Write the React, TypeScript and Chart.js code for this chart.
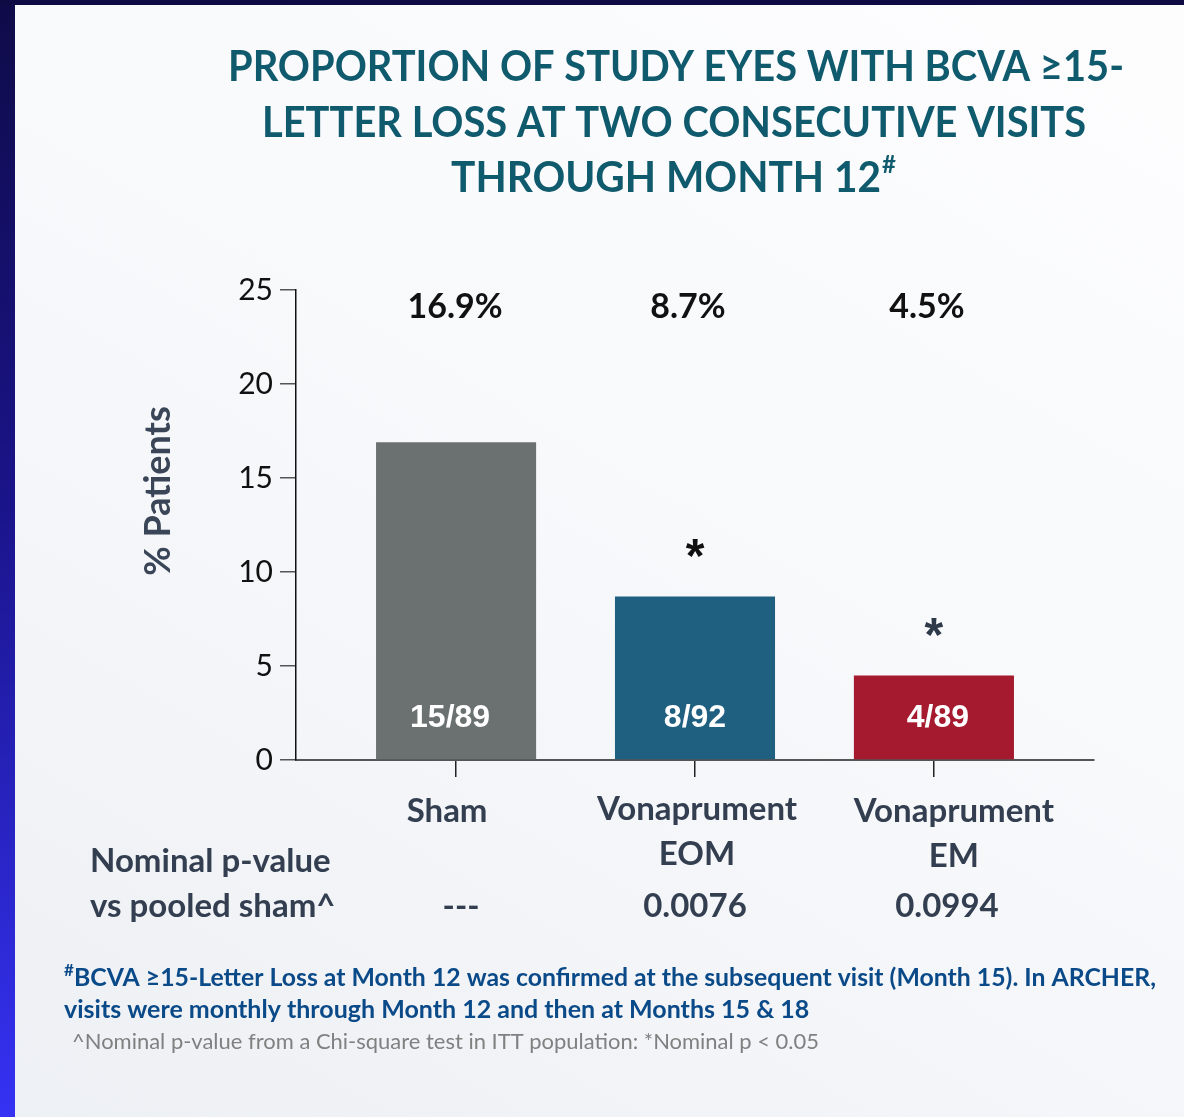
import React, { useEffect, useRef } from 'react';
import { Chart, registerables } from 'chart.js';

Chart.register(...registerables);

// ---------------- data ----------------
const categories: string[][] = [['Sham'], ['Vonaprument', 'EOM'], ['Vonaprument', 'EM']];
const percentValues = [16.9, 8.7, 4.5];
const responderCounts = ['15/89', '8/92', '4/89'];
const significant = [false, true, true];
const pValues = ['---', '0.0076', '0.0994'];
const barColors = ['#6b7170', '#1f5f80', '#a51a2e'];
const yAxisMin = 0;
const yAxisMax = 25;
const yAxisStep = 5;

const titleLines = ['PROPORTION OF STUDY EYES WITH BCVA \u226515-', 'LETTER LOSS AT TWO CONSECUTIVE VISITS', 'THROUGH MONTH 12'];
const titleSup = '#';
const yAxisTitle = '% Patients';
const pValueRowLabel = ['Nominal p-value', 'vs pooled sham^'];
const footnoteLines = [
  'BCVA \u226515-Letter Loss at Month 12 was confirmed at the subsequent visit (Month 15). In ARCHER,',
  'visits were monthly through Month 12 and then at Months 15 & 18',
];
const footnoteSmall = '^Nominal p-value from a Chi-square test in ITT population: *Nominal p < 0.05';

const FONT = 'Lato, "Open Sans", "Noto Sans", sans-serif';

// small per-category visual offsets of the annotation texts (layout only)
const LABEL_DX = [-9, 2, 20];
const LABEL_DY = [2, 0, 2];
const PCT_DX = [-1, -7, -7];
const COUNT_DX = [-6, 0, 4];
const PVAL_DX = [5, 0, 13];

function drawCapCentered(ctx: CanvasRenderingContext2D, text: string, x: number, cy: number, maxWidth?: number) {
  const cap = ctx.measureText('H').actualBoundingBoxAscent;
  const base = cy + cap / 2;
  if (maxWidth) ctx.fillText(text, x, base, maxWidth);
  else ctx.fillText(text, x, base);
}

function drawGlyphCentered(ctx: CanvasRenderingContext2D, text: string, x: number, cy: number) {
  const m = ctx.measureText(text);
  const base = cy + (m.actualBoundingBoxAscent - m.actualBoundingBoxDescent) / 2;
  ctx.fillText(text, x, base);
}

const annotationPlugin = {
  id: 'annotations',
  afterDatasetsDraw(chart: any) {
    const ctx: CanvasRenderingContext2D = chart.ctx;
    const xs = chart.scales.x;
    const ys = chart.scales.y;
    const axisY = ys.getPixelForValue(0);
    ctx.save();
    ctx.textBaseline = 'alphabetic';
    ctx.textAlign = 'center';
    percentValues.forEach((v, i) => {
      const x = xs.getPixelForValue(i);
      // percent at top
      ctx.fillStyle = '#111111';
      ctx.font = `bold 34px ${FONT}`;
      drawCapCentered(ctx, `${v.toFixed(1)}%`, x + PCT_DX[i], ys.getPixelForValue(yAxisMax) + 15);
      // inner count
      ctx.fillStyle = '#ffffff';
      ctx.font = 'bold 32px "Liberation Sans", Arial, sans-serif';
      drawCapCentered(ctx, responderCounts[i], x + COUNT_DX[i], axisY - 44);
      // asterisk
      if (significant[i]) {
        ctx.fillStyle = i === 1 ? '#111111' : '#2e3a4a';
        ctx.font = `bold 48px "Liberation Sans", Arial, sans-serif`;
        drawGlyphCentered(ctx, '*', x, ys.getPixelForValue(v) - 48);
      }
      // category labels
      ctx.fillStyle = '#333f50';
      ctx.font = `bold 33px ${FONT}`;
      categories[i].forEach((line, j) => {
        drawCapCentered(ctx, line, x + LABEL_DX[i], axisY + 48 + LABEL_DY[i] + j * 45);
      });
      // p-values
      ctx.font = `bold 33px ${FONT}`;
      drawCapCentered(ctx, pValues[i], x + PVAL_DX[i], 905);
    });
    ctx.restore();
  },
  afterDraw(chart: any) {
    const ctx: CanvasRenderingContext2D = chart.ctx;
    ctx.save();
    ctx.textBaseline = 'alphabetic';
    // Title
    ctx.fillStyle = '#0f5a6d';
    ctx.textAlign = 'center';
    ctx.font = `bold 42px ${FONT}`;
    const titleCenters = [65, 121, 176];
    const titleMax = [896, 824];
    drawCapCentered(ctx, titleLines[0], 676, titleCenters[0], titleMax[0]);
    drawCapCentered(ctx, titleLines[1], 674, titleCenters[1], titleMax[1]);
    // line 3 with superscript
    {
      ctx.font = `bold 42px ${FONT}`;
      const w1 = Math.min(ctx.measureText(titleLines[2]).width, 430);
      ctx.font = `bold 24px ${FONT}`;
      const w2 = ctx.measureText(titleSup).width;
      const start = 673 - (w1 + w2) / 2;
      ctx.textAlign = 'left';
      ctx.font = `bold 42px ${FONT}`;
      drawCapCentered(ctx, titleLines[2], start, titleCenters[2], 430);
      ctx.font = `bold 24px ${FONT}`;
      drawCapCentered(ctx, titleSup, start + w1 + 1, titleCenters[2] - 12);
    }
    // Y axis title
    ctx.save();
    ctx.translate(157, 491);
    ctx.rotate(-Math.PI / 2);
    ctx.textAlign = 'center';
    ctx.fillStyle = '#3a4658';
    ctx.font = `bold 36px ${FONT}`;
    drawCapCentered(ctx, yAxisTitle, 0, 0, 174);
    ctx.restore();
    // p-value row label
    ctx.textAlign = 'left';
    ctx.fillStyle = '#333f50';
    ctx.font = `bold 33px ${FONT}`;
    drawCapCentered(ctx, pValueRowLabel[0], 90, 860, 252);
    drawCapCentered(ctx, pValueRowLabel[1], 90, 905, 252);
    // footnotes
    ctx.fillStyle = '#0b4a88';
    ctx.font = `bold 17px ${FONT}`;
    drawCapCentered(ctx, '#', 64, 970);
    ctx.font = `bold 25px ${FONT}`;
    drawCapCentered(ctx, footnoteLines[0], 74, 977, 1082);
    drawCapCentered(ctx, footnoteLines[1], 64, 1009, 748);
    ctx.fillStyle = '#808080';
    ctx.font = `22px ${FONT}`;
    drawCapCentered(ctx, footnoteSmall, 72, 1041, 747);
    ctx.restore();
  },
};

export default function App() {
  const canvasRef = useRef<HTMLCanvasElement | null>(null);

  useEffect(() => {
    const canvas = canvasRef.current;
    if (!canvas) return;
    const chart = new Chart(canvas, {
      type: 'bar',
      data: {
        labels: categories.map((c) => c.join(' ')),
        datasets: [
          {
            data: percentValues.map((v, i) => ({ x: i, y: v })),
            backgroundColor: barColors,
            borderWidth: 0,
            barPercentage: 0.67,
            categoryPercentage: 1,
          } as any,
        ],
      },
      options: {
        responsive: false,
        animation: false,
        devicePixelRatio: 1,
        layout: { padding: { left: 0, top: 290, right: 90, bottom: 257 } },
        plugins: {
          legend: { display: false },
          tooltip: { enabled: false },
          title: { display: false },
        },
        scales: {
          x: {
            type: 'linear',
            min: -0.67,
            max: 2.67,
            offset: false,
            afterBuildTicks: (s: any) => {
              s.ticks = categories.map((_, i) => ({ value: i }));
            },
            afterFit: (s: any) => {
              s.height = 100;
            },
            ticks: { display: false },
            grid: { offset: false, drawOnChartArea: false, drawTicks: true, tickLength: 17, color: '#222222', lineWidth: 1.5 },
            border: { display: true, color: '#555555', width: 2 },
          } as any,
          y: {
            min: yAxisMin,
            max: yAxisMax,
            afterFit: (s: any) => {
              s.width = 296;
            },
            ticks: {
              stepSize: yAxisStep,
              padding: 7,
              color: '#111111',
              font: { family: FONT, size: 30 },
            },
            grid: { drawOnChartArea: false, drawTicks: true, tickLength: 16, color: '#555555', lineWidth: 1.5 },
            border: { display: true, color: '#111111', width: 1.5 },
          } as any,
        },
      },
      plugins: [annotationPlugin],
    });
    return () => chart.destroy();
  }, []);

  return (
    <div style={{ position: 'fixed', left: 0, top: 0, width: 1184, height: 1117, overflow: 'hidden', background: 'linear-gradient(to bottom, #0f0b48 0%, #1a148a 45%, #3532f4 100%)' }}>
      <div style={{ position: 'absolute', left: 0, top: 0, width: 1184, height: 5, background: '#0e0b44' }} />
      <div style={{ position: 'absolute', left: 15, top: 5, width: 1169, height: 1112, background: 'linear-gradient(30deg, #edf0f4 0%, #f8f9fb 55%, #fdfdfe 100%)' }} />
      <canvas ref={canvasRef} width={1184} height={1117} style={{ position: 'absolute', left: 0, top: 0, width: 1184, height: 1117 }} />
    </div>
  );
}
